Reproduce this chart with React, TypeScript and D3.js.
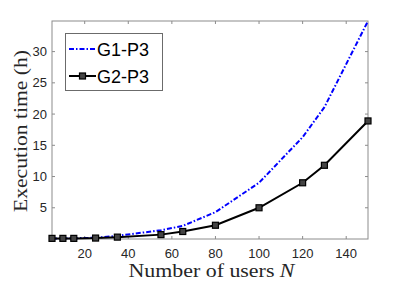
import React, { useEffect, useRef } from "react";
import * as d3 from "d3";

// users N
const users = [5, 10, 15, 25, 35, 55, 65, 80, 100, 120, 130, 150];
// execution time (h)
const g1p3 = [0.1, 0.1, 0.12, 0.2, 0.5, 1.4, 2.1, 4.3, 9.0, 16.3, 21.1, 34.9];
const g2p3 = [0.1, 0.1, 0.1, 0.15, 0.3, 0.7, 1.2, 2.2, 5.0, 9.0, 11.8, 18.9];
const xTicks = [20, 40, 60, 80, 100, 120, 140];
const yTicks = [5, 10, 15, 20, 25, 30];

const W = 407;
const H = 287;
const m = { top: 21, right: 39, bottom: 48, left: 52 };

export default function App() {
  const ref = useRef<SVGSVGElement>(null);

  useEffect(() => {
    const svg = d3.select(ref.current);
    svg.selectAll("*").remove();

    const x = d3.scaleLinear().domain([5, 150]).range([m.left, W - m.right]);
    const y = d3.scaleLinear().domain([0, 34.9]).range([H - m.bottom, m.top]);
    const axisCol = "#8c8c8c";
    const textCol = "#262626";

    const g = svg.append("g");

    // axes box
    g.append("rect")
      .attr("x", m.left)
      .attr("y", m.top)
      .attr("width", W - m.left - m.right)
      .attr("height", H - m.top - m.bottom)
      .attr("fill", "white")
      .attr("stroke", axisCol)
      .attr("stroke-width", 1);

    const tl = 3;
    xTicks.forEach((t) => {
      g.append("line").attr("x1", x(t)).attr("x2", x(t))
        .attr("y1", H - m.bottom).attr("y2", H - m.bottom - tl)
        .attr("stroke", axisCol);
      g.append("line").attr("x1", x(t)).attr("x2", x(t))
        .attr("y1", m.top).attr("y2", m.top + tl)
        .attr("stroke", axisCol);
      g.append("text")
        .attr("x", x(t))
        .attr("y", H - m.bottom + 19)
        .attr("text-anchor", "middle")
        .attr("font-family", "Liberation Sans, Arial, sans-serif")
        .attr("font-size", 13)
        .attr("fill", textCol)
        .text(t);
    });
    yTicks.forEach((t) => {
      g.append("line").attr("x1", m.left).attr("x2", m.left + tl)
        .attr("y1", y(t)).attr("y2", y(t))
        .attr("stroke", axisCol);
      g.append("line").attr("x1", W - m.right).attr("x2", W - m.right - tl)
        .attr("y1", y(t)).attr("y2", y(t))
        .attr("stroke", axisCol);
      g.append("text")
        .attr("x", m.left - 5)
        .attr("y", y(t) + 4.5)
        .attr("text-anchor", "end")
        .attr("font-family", "Liberation Sans, Arial, sans-serif")
        .attr("font-size", 13)
        .attr("fill", textCol)
        .text(t);
    });

    const line = d3.line<[number, number]>()
      .x((d) => x(d[0]))
      .y((d) => y(d[1]));

    const d1 = users.map((u, i) => [u, g1p3[i]] as [number, number]);
    const d2 = users.map((u, i) => [u, g2p3[i]] as [number, number]);

    g.append("path")
      .attr("d", line(d1))
      .attr("fill", "none")
      .attr("stroke", "#0000ff")
      .attr("stroke-width", 2)
      .attr("stroke-dasharray", "5,2,1.5,2");

    g.append("path")
      .attr("d", line(d2))
      .attr("fill", "none")
      .attr("stroke", "black")
      .attr("stroke-width", 2);

    g.selectAll("rect.mk")
      .data(d2)
      .enter()
      .append("rect")
      .attr("class", "mk")
      .attr("x", (d) => x(d[0]) - 3)
      .attr("y", (d) => y(d[1]) - 3)
      .attr("width", 6)
      .attr("height", 6)
      .attr("fill", "#444")
      .attr("stroke", "black")
      .attr("stroke-width", 1.2);

    // legend
    const lg = g.append("g");
    lg.append("rect")
      .attr("x", 65.5).attr("y", 33.5)
      .attr("width", 97).attr("height", 57)
      .attr("fill", "white")
      .attr("stroke", "#6b6b6b")
      .attr("stroke-width", 1);
    lg.append("line")
      .attr("x1", 69).attr("x2", 96).attr("y1", 49).attr("y2", 49)
      .attr("stroke", "#0000ff").attr("stroke-width", 2)
      .attr("stroke-dasharray", "5,2,1.5,2");
    lg.append("line")
      .attr("x1", 69).attr("x2", 96).attr("y1", 76).attr("y2", 76)
      .attr("stroke", "black").attr("stroke-width", 2);
    lg.append("rect")
      .attr("x", 79.5).attr("y", 73).attr("width", 6).attr("height", 6)
      .attr("fill", "#444").attr("stroke", "black").attr("stroke-width", 1.2);
    ["G1-P3", "G2-P3"].forEach((s, i) => {
      lg.append("text")
        .attr("x", 97)
        .attr("y", 55.5 + i * 27)
        .attr("font-family", "Liberation Sans, Arial, sans-serif")
        .attr("font-size", 18)
        .attr("fill", "black")
        .text(s);
    });

    // axis labels
    const xl = g.append("text")
      .attr("x", 211.5)
      .attr("y", 277)
      .attr("text-anchor", "middle")
      .attr("font-family", "Liberation Serif, Times New Roman, serif")
      .attr("font-size", 18)
      .attr("textLength", 166)
      .attr("lengthAdjust", "spacingAndGlyphs")
      .attr("fill", textCol);
    xl.append("tspan").text("Number of users ");
    xl.append("tspan").attr("font-style", "italic").text("N");

    g.append("text")
      .attr("transform", `translate(27, 131) rotate(-90)`)
      .attr("text-anchor", "middle")
      .attr("font-family", "Liberation Serif, Times New Roman, serif")
      .attr("font-size", 18)
      .attr("textLength", 162)
      .attr("lengthAdjust", "spacingAndGlyphs")
      .attr("fill", textCol)
      .text("Execution time (h)");
  }, []);

  return (
    <svg
      ref={ref}
      width={W}
      height={H}
      style={{ position: "absolute", left: 0, top: 0, background: "white" }}
    />
  );
}
